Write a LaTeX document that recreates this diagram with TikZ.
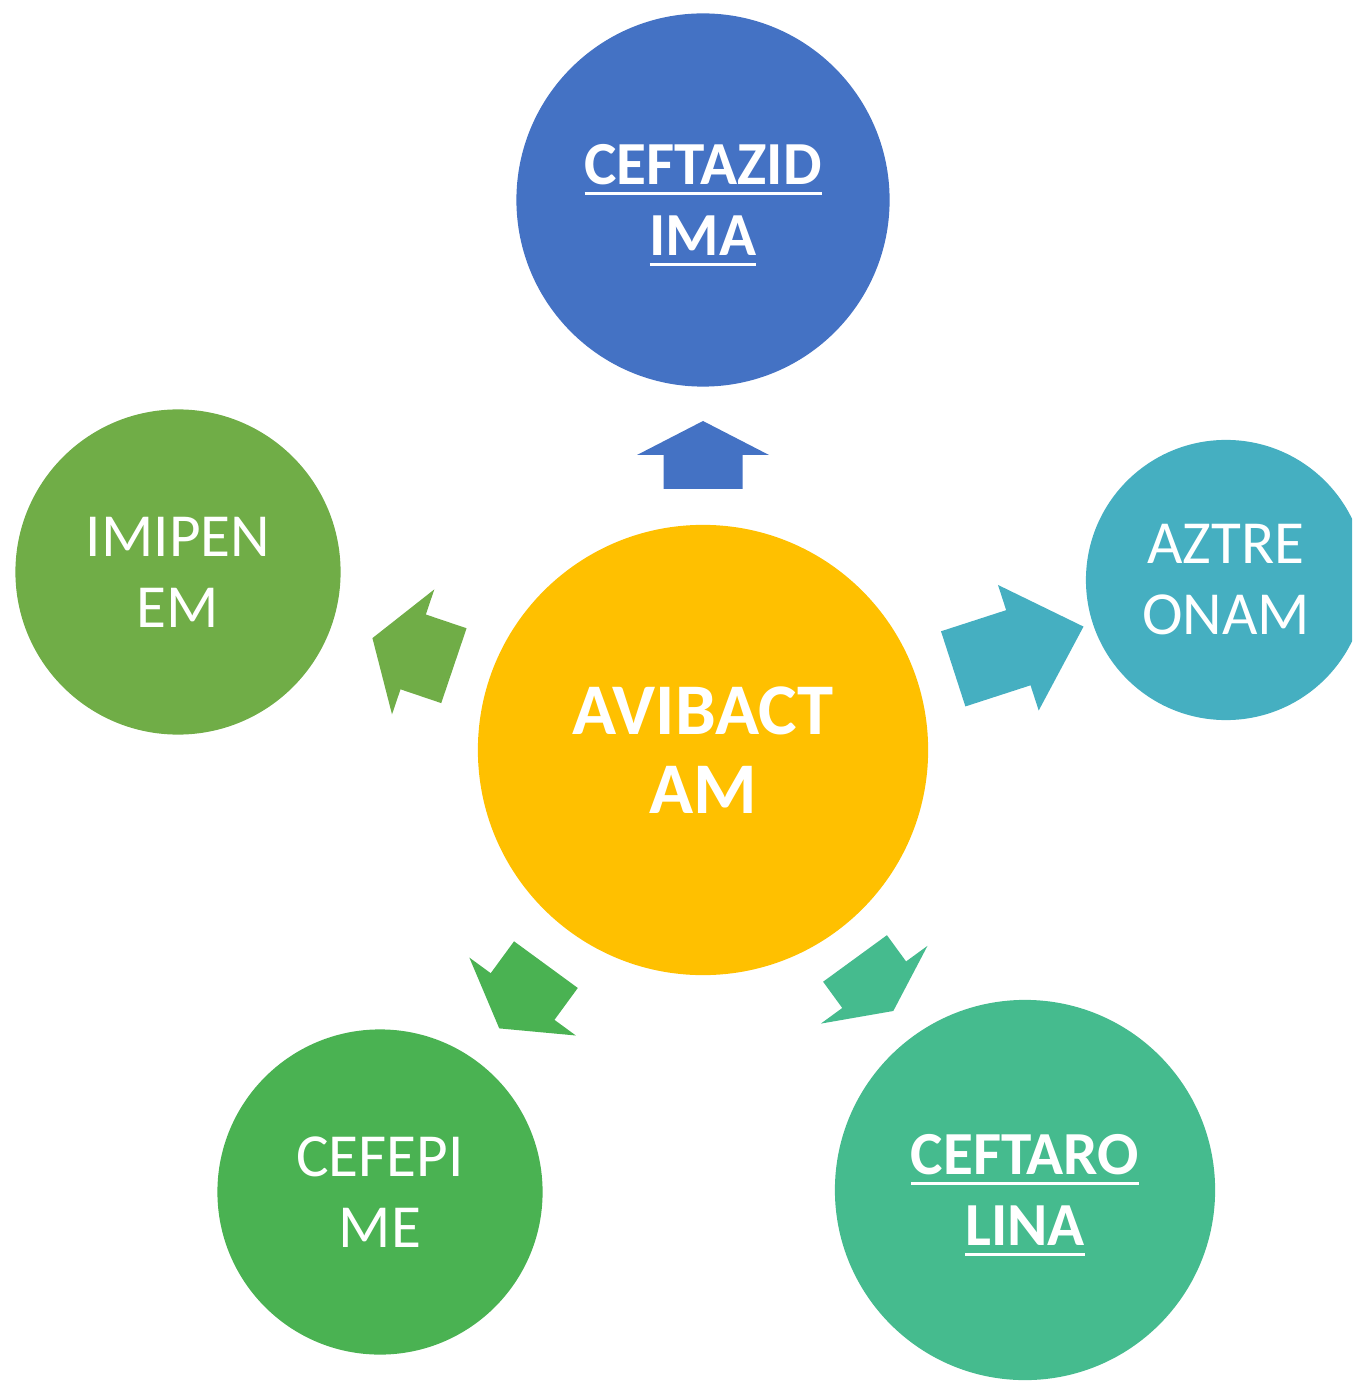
\documentclass[tikz,border=0pt]{standalone}
\usepackage{fontspec}
\setmainfont{Carlito}
\usepackage{tikz}
\usetikzlibrary{calc}
\definecolor{aviyellow}{RGB}{255,192,0}
\definecolor{ceftblue}{RGB}{68,114,196}
\definecolor{aztblue}{RGB}{69,175,193}
\definecolor{imigreen}{RGB}{112,173,71}
\definecolor{cefegreen}{RGB}{74,178,82}
\definecolor{ceftgreen}{RGB}{69,187,142}
% underlined label, rule kept out of the box depth
\newcommand{\undl}[1]{\setbox0\hbox{#1}\rlap{\smash{\rule[-3.1pt]{\wd0}{1.1pt}}}\box0}

\begin{document}
\begin{tikzpicture}[x=0.01cm, y=-0.01cm,
    bubble/.style={circle, fill=#1, text=white, inner sep=0pt, align=center,
        font=\fontsize{17.4}{20.2}\selectfont},
    hub/.style={bubble=#1, font=\fontsize{20.7}{22.5}\selectfont\bfseries}
]
    \useasboundingbox (0,0) rectangle (1352,1383);
    \clip (0,0) rectangle (1352,1383);

    % centre
    \node[hub=aviyellow, minimum size=4.5cm] (avi) at (703,750) {AVIBACT\\AM};

    % outer ring
    \node[bubble=ceftblue, minimum size=3.73cm] (ceftaz) at (703,200)
        {\bfseries\undl{CEFTAZID}\\\bfseries\undl{IMA}};
    \node[bubble=aztblue, minimum size=2.8cm] (aztre) at (1226,580) {AZTRE\\ONAM};
    \node[bubble=imigreen, minimum size=3.25cm] (imip) at (178,572) {IMIPEN\\EM};
    \node[bubble=cefegreen, minimum size=3.25cm] (cefep) at (380,1192) {CEFEPI\\ME};
    \node[bubble=ceftgreen, minimum size=3.8cm] (ceftar) at (1025,1190)
        {\bfseries\undl{CEFTARO}\\\bfseries\undl{LINA}};

    % block arrows pointing out of the centre
    \foreach \col/\ang/\st/\len in {ceftblue/90/261/68, aztblue/17.97/263/137,
        imigreen/161.3/263/86, cefegreen/233.8/266/79, ceftgreen/306.1/258/65} {
        \pgfmathsetmacro{\arrmid}{\st+\len/2}
        \pgfmathsetmacro{\arrtip}{\st+\len}
        \fill[\col, shift={(avi.center)}, rotate=\ang]
            (\st,-39.5) -- (\arrmid,-39.5) -- (\arrmid,-66) -- (\arrtip,0)
            -- (\arrmid,66) -- (\arrmid,39.5) -- (\st,39.5) -- cycle;
    }
\end{tikzpicture}
\end{document}
